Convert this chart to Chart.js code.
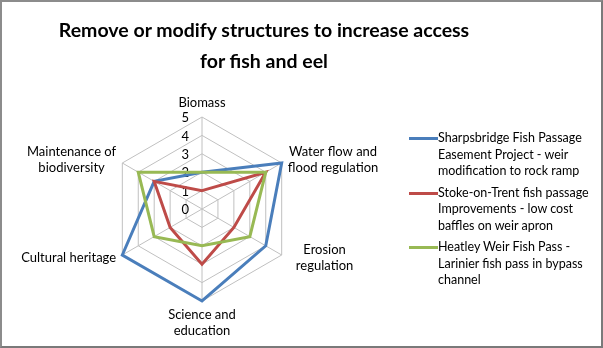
<!DOCTYPE html>
<html>
<head>
<meta charset="utf-8">
<title>Remove or modify structures to increase access for fish and eel</title>
<script src="https://cdn.jsdelivr.net/npm/chart.js@4.4.0/dist/chart.umd.min.js"></script>
<style>
  html, body { margin: 0; padding: 0; background: #fff; }
  #frame {
    position: relative;
    width: 603px;
    height: 348px;
    box-sizing: border-box;
    border-left: 2px solid #8c8c8c;
    border-top: 2px solid #8c8c8c;
    border-right: 2px solid #7a7a7a;
    border-bottom: 2px solid #7a7a7a;
    overflow: hidden;
    font-family: Lato, "Open Sans", sans-serif;
  }
  #radar { position: absolute; left: -2px; top: -2px; }
  #title {
    position: absolute;
    left: 0;
    width: 524px;
    top: 12px;
    text-align: center;
    font-weight: bold;
    font-size: 19.5px;
    line-height: 31px;
    color: #000;
  }
  #legend {
    position: absolute;
    left: 407px;
    top: 128px;
    font-size: 12.5px;
    line-height: 16.5px;
    color: #000;
  }
  .item { display: flex; align-items: flex-start; margin-bottom: 5px; }
  .swatch { width: 29px; height: 3px; margin-top: 7px; flex: none; }
</style>
</head>
<body>
<div id="frame">
  <canvas id="radar" width="603" height="348"></canvas>
  <div id="title">Remove or modify structures to increase access<br>for fish and eel</div>
  <div id="legend"></div>
</div>
<script>
// axes of the radar, one entry per line of text
const categories = [
  ['Biomass'],
  ['Water flow and', 'flood regulation'],
  ['Erosion', 'regulation'],
  ['Science and', 'education'],
  ['Cultural heritage'],
  ['Maintenance of', 'biodiversity']
];

const seriesNames = [
  ['Sharpsbridge Fish Passage', 'Easement Project - weir', 'modification to rock ramp'],
  ['Stoke-on-Trent fish passage', 'Improvements - low cost', 'baffles on weir apron'],
  ['Heatley Weir Fish Pass -', 'Larinier fish pass in bypass', 'channel']
];

const sharpsbridge = [2, 5, 4, 5, 5, 3];
const stokeOnTrent = [1, 4, 2, 3, 2, 3];
const heatley = [2, 4, 3, 2, 3, 4];

const tickLabels = [0, 1, 2, 3, 4, 5];

const colors = ['#4a7ebb', '#be4b48', '#98b954'];
const seriesValues = [sharpsbridge, stokeOnTrent, heatley];

const labelFont = '13px Lato, "Open Sans", sans-serif';
// extra sideways push for labels that sit further out
const labelNudge = [0, 0, 8, 0, 0, 0];

// tick numbers sit left of the top spoke, under the series lines
const radarTicks = {
  id: 'radarTicks',
  beforeDatasetsDraw(chart) {
    const scale = chart.scales.r;
    const ctx = chart.ctx;
    ctx.save();
    ctx.font = labelFont;
    ctx.fillStyle = '#000';
    ctx.textAlign = 'right';
    ctx.textBaseline = 'middle';
    tickLabels.forEach(v => {
      const p = scale.getPointPositionForValue(0, v);
      ctx.fillText(String(v), p.x - 13, p.y + 1);
    });
    ctx.restore();
  }
};

// category names around the outside, centred line by line
const radarLabels = {
  id: 'radarLabels',
  afterDraw(chart) {
    const scale = chart.scales.r;
    const ctx = chart.ctx;
    const lineH = 16;
    ctx.save();
    ctx.font = labelFont;
    ctx.fillStyle = '#000';
    ctx.textAlign = 'center';
    ctx.textBaseline = 'middle';
    categories.forEach((lines, i) => {
      const p = scale.getPointPosition(i, scale.drawingArea + 6);
      const w = Math.max(...lines.map(l => ctx.measureText(l).width));
      const h = lines.length * lineH;
      let cx = p.x, top = p.y - h / 2;
      if (Math.abs(p.x - scale.xCenter) < 1) {
        top = p.y < scale.yCenter ? p.y - h : p.y;
      } else if (p.x > scale.xCenter) {
        cx = p.x + 1 + labelNudge[i] + w / 2;
      } else {
        cx = p.x - 1 - labelNudge[i] - w / 2;
      }
      lines.forEach((l, k) => ctx.fillText(l, cx, top + lineH * k + lineH / 2));
    });
    ctx.restore();
  }
};

new Chart(document.getElementById('radar'), {
  type: 'radar',
  data: {
    labels: categories,
    datasets: seriesValues.map((vals, i) => ({
      label: seriesNames[i].join(' '),
      data: vals,
      borderColor: colors[i],
      backgroundColor: colors[i],
      borderWidth: 3,
      fill: false,
      order: seriesValues.length - i
    }))
  },
  options: {
    responsive: false,
    animation: false,
    layout: { padding: { left: 110, right: 309, top: 117, bottom: 47 } },
    elements: {
      line: { tension: 0, borderJoinStyle: 'miter' },
      point: { radius: 0, hoverRadius: 0 }
    },
    scales: {
      r: {
        min: 0,
        max: 5,
        ticks: { stepSize: 1, display: false },
        grid: { color: '#c0c0c0', lineWidth: 1 },
        angleLines: { color: '#c0c0c0', lineWidth: 1 },
        pointLabels: { display: false }
      }
    },
    plugins: {
      legend: { display: false },
      tooltip: { enabled: false }
    }
  },
  plugins: [radarTicks, radarLabels]
});

// legend to the right: short line sample plus wrapped series name
const legend = document.getElementById('legend');
seriesNames.forEach((lines, i) => {
  const item = document.createElement('div');
  item.className = 'item';
  const sw = document.createElement('div');
  sw.className = 'swatch';
  sw.style.background = colors[i];
  const txt = document.createElement('div');
  txt.innerHTML = lines.join('<br>');
  item.appendChild(sw);
  item.appendChild(txt);
  legend.appendChild(item);
});
</script>
</body>
</html>
